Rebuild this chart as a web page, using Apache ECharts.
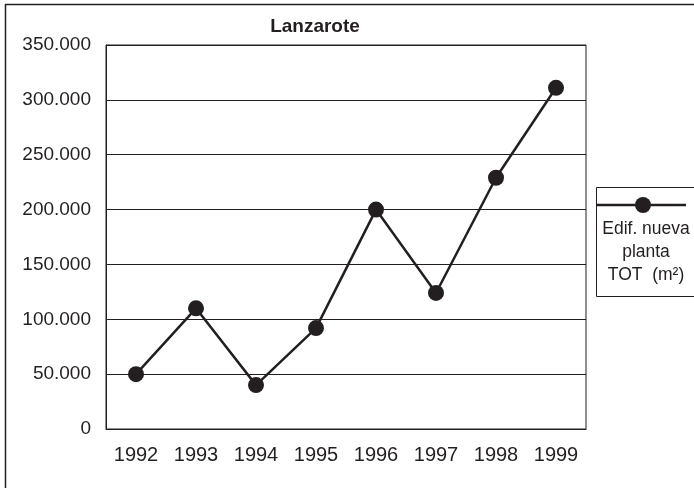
<!DOCTYPE html>
<html>
<head>
<meta charset="UTF-8">
<title>Lanzarote</title>
<script src="https://cdn.jsdelivr.net/npm/echarts@6/dist/echarts.min.js"></script>
<style>
  html, body { margin: 0; padding: 0; background: #fff; }
</style>
</head>
<body>
	<div id="chart" style="width: 694px;height:488px;"></div>
	<script type="text/javascript">
		var FONT = "'Liberation Sans', Arial, sans-serif";

		// data
		var years = [ '1992', '1993', '1994', '1995', '1996', '1997', '1998', '1999' ];
		var seriesName = 'Edif. nueva planta TOT (m²)';
		var values = [ 50000, 110000, 40000, 92000, 200000, 124000, 229000, 311000 ];

		// 350000 -> "350.000"
		function fmtThousands(v) {
			return String(v).replace(/\B(?=(\d{3})+(?!\d))/g, '.');
		}

		var myChart = echarts.init(document.getElementById('chart'));

		var option = {
			animation : false,
			backgroundColor : '#fff',
			title : {
				text : 'Lanzarote',
				left : 310,
				top : 12,
				textAlign : 'center',
				textStyle : {
					fontFamily : FONT,
					fontWeight : 'bold',
					fontSize : 19,
					color : '#231f20'
				}
			},
			grid : {
				left : 106,
				right : 108,
				top : 45,
				bottom : 59,
				show : true,
				borderColor : '#231f20',
				borderWidth : 1
			},
			xAxis : {
				type : 'category',
				data : years,
				boundaryGap : true,
				axisLine : { show : true, lineStyle : { color : '#231f20' } },
				axisTick : { show : false },
				axisLabel : {
					margin : 16,
					fontFamily : FONT,
					fontSize : 20,
					color : '#231f20'
				}
			},
			yAxis : {
				type : 'value',
				min : 0,
				max : 350000,
				interval : 50000,
				axisLine : { show : true, lineStyle : { color : '#231f20' } },
				axisTick : { show : false },
				splitLine : { show : true, lineStyle : { color : '#231f20', width : 1 } },
				axisLabel : {
					margin : 15,
					fontFamily : FONT,
					fontSize : 19,
					color : '#231f20',
					formatter : fmtThousands
				}
			},
			series : [ {
				name : seriesName,
				type : 'line',
				data : values,
				symbol : 'circle',
				symbolSize : 16,
				itemStyle : { color : '#231f20' },
				lineStyle : { color : '#231f20', width : 2.5 }
			} ],
			graphic : [
				// outer frame (runs off the right and bottom edges)
				{
					type : 'rect',
					shape : { x : 5.5, y : 4.5, width : 720, height : 520 },
					style : { fill : 'none', stroke : '#231f20', lineWidth : 1.5 }
				},
				// legend box
				{
					type : 'rect',
					shape : { x : 596.5, y : 187.5, width : 120, height : 109 },
					style : { fill : '#fff', stroke : '#231f20', lineWidth : 1 }
				},
				{
					type : 'line',
					shape : { x1 : 597, y1 : 205, x2 : 686, y2 : 205 },
					style : { stroke : '#231f20', lineWidth : 2.5 }
				},
				{
					type : 'circle',
					shape : { cx : 643, cy : 205, r : 8 },
					style : { fill : '#231f20' }
				},
				{
					type : 'text',
					x : 646,
					y : 218,
					style : {
						text : 'Edif. nueva\nplanta\nTOT  (m²)',
						align : 'center',
						verticalAlign : 'top',
						fontFamily : FONT,
						fontSize : 17.5,
						lineHeight : 23,
						fill : '#231f20'
					}
				}
			]
		};

		myChart.setOption(option);
	</script>
</body>
</html>
